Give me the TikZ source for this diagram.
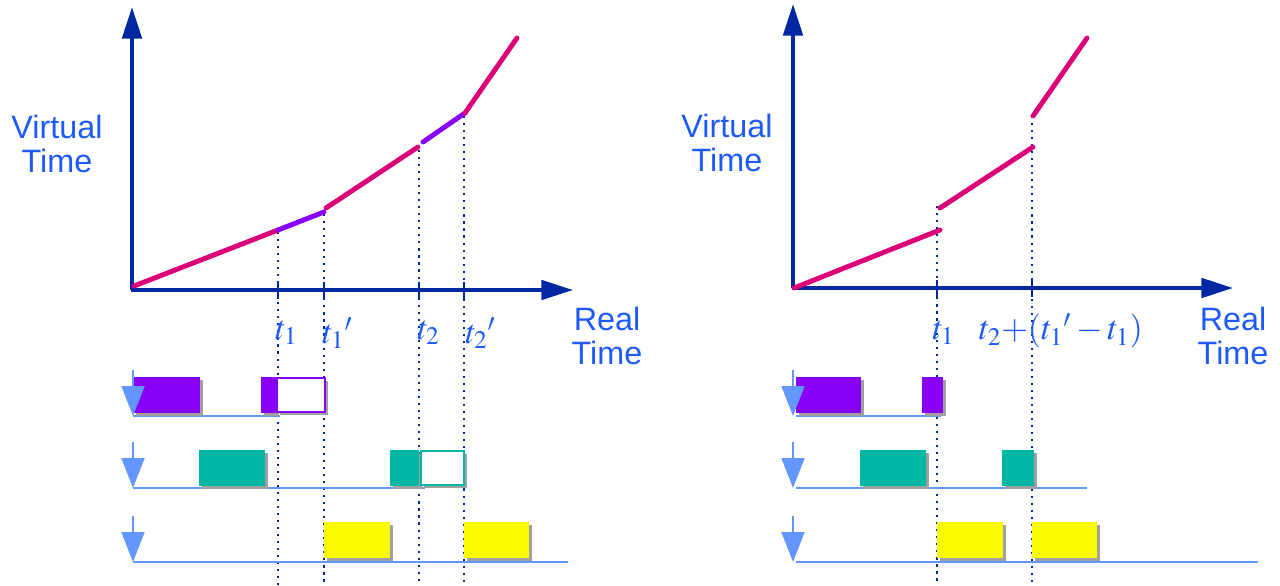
\documentclass[tikz,border=0pt]{standalone}
\usepackage{mathptmx}
\usepackage{fontspec}
\newfontfamily\lbs{Liberation Sans}
\usetikzlibrary{arrows.meta, positioning}
\definecolor{axisblue}{RGB}{0, 40, 160}
\definecolor{labelblue}{RGB}{30, 90, 250}
\definecolor{laneblue}{RGB}{100, 150, 255}
\definecolor{vtpink}{RGB}{220, 0, 120}
\definecolor{jobpurple}{RGB}{136, 0, 245}
\definecolor{jobteal}{RGB}{0, 182, 164}
\definecolor{jobyellow}{RGB}{250, 250, 0}
\definecolor{shadowgray}{RGB}{160, 160, 160}

\begin{document}
\begin{tikzpicture}[
  x=0.02cm, y=-0.02cm,
  axis/.style={draw=axisblue, line width=2.3pt, -{Triangle[length=18pt, width=11pt]}},
  seg/.style={line width=2.8pt, line cap=round},
  guide/.style={draw=axisblue, line width=1.2pt, dash pattern=on 1.2pt off 2.8pt},
  tickmark/.style={draw=axisblue, line width=1.2pt},
  lane/.style={draw=laneblue, line width=1.2pt},
  lanearrow/.style={draw=laneblue, fill=laneblue, line width=1.2pt, -{Triangle[length=17pt, width=13pt]}},
  job/.style={preaction={fill=shadowgray, transform canvas={shift={(2.5,2.5)}}}},
  lbl/.style={text=labelblue, align=center, font=\lbs\fontsize{18.4}{19}\selectfont, inner sep=0pt},
  tlbl/.style={text=labelblue, font=\fontsize{19.5}{22}\selectfont, inner sep=0pt}
]
  \useasboundingbox (0,0) rectangle (1280,585);

  % ---------- left panel ----------
  \coordinate (lo) at (133,290);
  \coordinate (la) at (278,230);
  \coordinate (lb) at (324,212);
  \coordinate (lc) at (326,208);
  \coordinate (ld) at (418,147);
  \coordinate (le) at (423,142);
  \coordinate (lf) at (465,113);
  \coordinate (lg) at (517,38);

  \draw[guide] (278,232) -- (278,585);
  \draw[guide] (324,214) -- (324,585);
  \draw[guide] (419,150) -- (419,585);
  \draw[guide] (464,116) -- (464,585);
  \foreach \tx in {278,324,419,464}
    \draw[tickmark] (\tx,282) -- (\tx,299);

  \draw[axis] (132,290) -- (132,7);
  \draw[axis] (131,290) -- (573,290);

  \draw[seg, vtpink] (134,286) -- (la);
  \draw[seg, jobpurple] (la) -- (lb);
  \draw[seg, vtpink] (lc) -- (ld);
  \draw[seg, jobpurple] (le) -- (lf);
  \draw[seg, vtpink] (lf) -- (lg);

  \node[lbl] (lvt) at (57,144) {Virtual\\Time};
  \node[lbl] (lrt) at (607,336) {Real\\Time};
  \node[tlbl, anchor=west] (lt1) at (275,333) {$t_1$};
  \node[tlbl, anchor=west] (lt1p) at (322,333) {$t_1{}'$};
  \node[tlbl, anchor=west] (lt2) at (417,333) {$t_2$};
  \node[tlbl, anchor=west] (lt2p) at (465,333) {$t_2{}'$};

  % lanes
  \draw[lane] (133,416) -- (280,416);
  \draw[lane] (133,488) -- (425,488);
  \draw[lane] (133,562) -- (568,562);

  \fill[job, jobpurple] (133,377) rectangle (200,413);
  \fill[job, jobpurple] (261,377) rectangle (276,413);
  \draw[job, draw=jobpurple, fill=white, line width=1.3pt] (277,378) rectangle (325,412);
  \fill[job, jobteal] (199,450) rectangle (265,486);
  \fill[job, jobteal] (390,450) rectangle (419,486);
  \draw[job, draw=jobteal, fill=white, line width=1.3pt] (421,451) rectangle (464,485);
  \fill[job, jobyellow] (324,522) rectangle (390,558);
  \fill[job, jobyellow] (464,522) rectangle (529,558);

  \foreach \ly in {416,488,562}
    \draw[lanearrow] (133,\ly-46) -- (133,\ly);

  % ---------- right panel ----------
  \coordinate (ro) at (794,288);
  \coordinate (ra) at (940,230);
  \coordinate (rb) at (940,208);
  \coordinate (rc) at (1033,147);
  \coordinate (rd) at (1033,116);
  \coordinate (re) at (1087,38);

  \draw[guide] (937,206) -- (937,585);
  \draw[guide] (1032,116) -- (1032,585);
  \foreach \tx in {937,1032}
    \draw[tickmark] (\tx,280) -- (\tx,297);

  \draw[axis] (793,288) -- (793,4);
  \draw[axis] (792,288) -- (1233,288);

  \draw[seg, vtpink] (ro) -- (ra);
  \draw[seg, vtpink] (rb) -- (rc);
  \draw[seg, vtpink] (rd) -- (re);

  \node[lbl] (rvt) at (727,143) {Virtual\\Time};
  \node[lbl] (rrt) at (1233,336) {Real\\Time};
  \node[tlbl, anchor=west] (rt1) at (932,333) {$t_1$};
  \node[tlbl] (rt2) at (1061,331) {$t_2{+}(t_1{}' - t_1)$};

  % lanes
  \draw[lane] (796,416) -- (941,416);
  \draw[lane] (796,488) -- (1087,488);
  \draw[lane] (796,562) -- (1258,562);

  \fill[job, jobpurple] (796,377) rectangle (861,413);
  \fill[job, jobpurple] (922,377) rectangle (943,413);
  \fill[job, jobteal] (860,450) rectangle (926,486);
  \fill[job, jobteal] (1002,450) rectangle (1034,486);
  \fill[job, jobyellow] (937,522) rectangle (1003,558);
  \fill[job, jobyellow] (1032,522) rectangle (1097,558);

  \foreach \ly in {416,488,562}
    \draw[lanearrow] (793,\ly-46) -- (793,\ly);
\end{tikzpicture}
\end{document}
